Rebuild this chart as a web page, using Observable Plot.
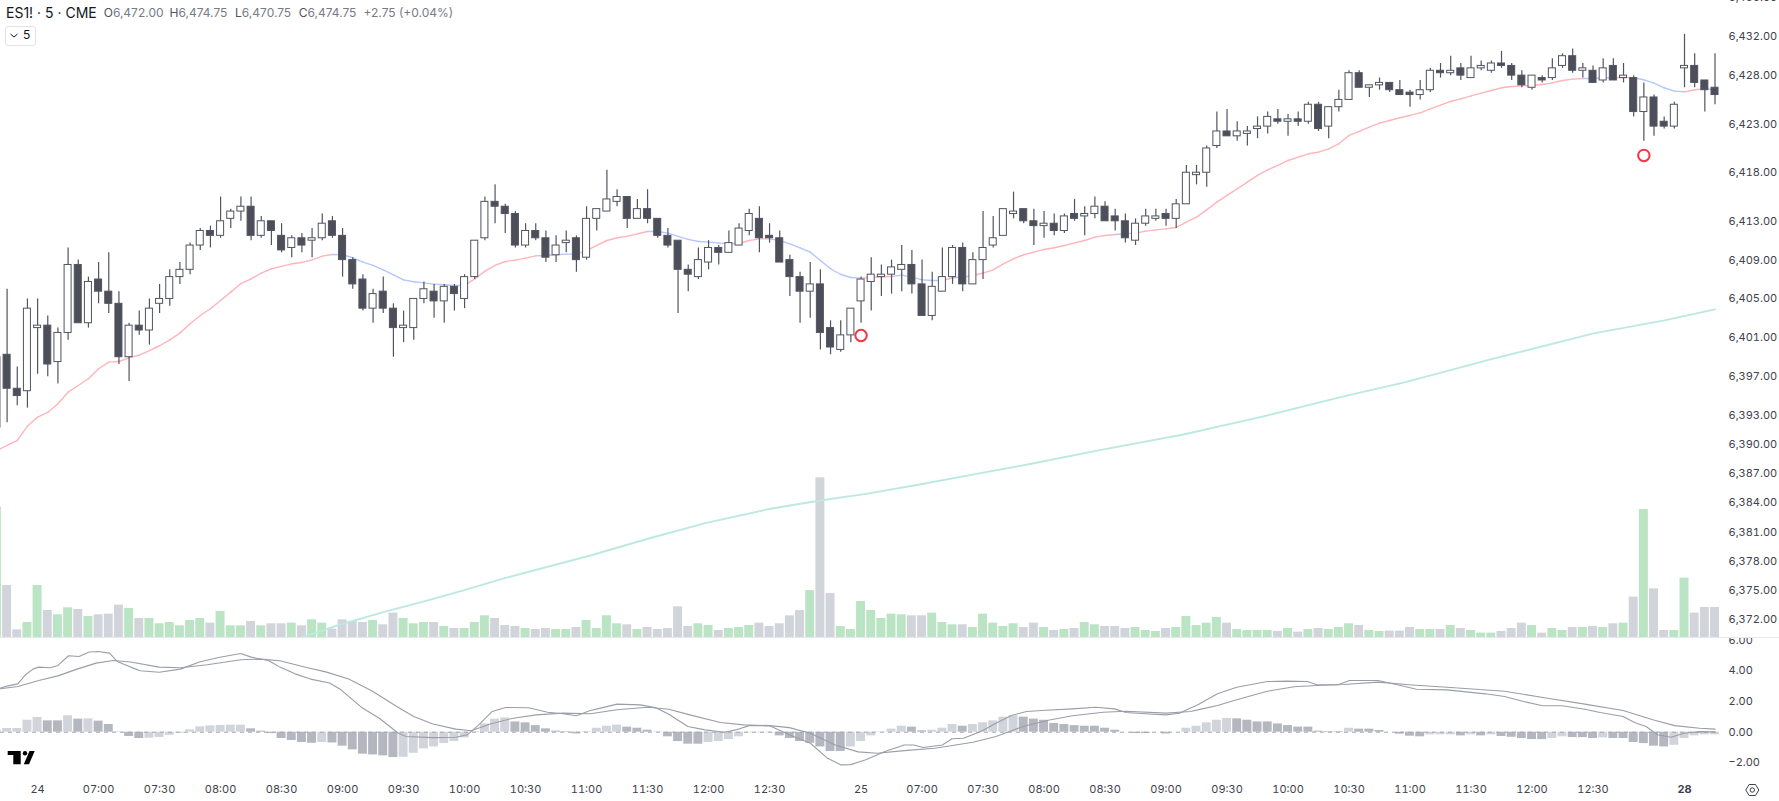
<!DOCTYPE html>
<html>
<head>
<meta charset="utf-8">
<script src="https://cdn.jsdelivr.net/npm/d3@7"></script>
<script src="https://cdn.jsdelivr.net/npm/@observablehq/plot@0.6"></script>
<style>
html,body{margin:0;padding:0;background:#fff;overflow:hidden;font-family:Inter,sans-serif}
#stage{position:relative;width:1779px;height:801px;overflow:hidden}
#stage>svg{position:absolute;left:0}
.t{position:absolute;white-space:nowrap;line-height:16px}
</style>
</head>
<body>
<div id="stage"></div>
<script>
// bar index of the first value in every per-bar array (06:30 of the 24th is index 0)
const firstBar = -4;

const opens = [
6391.75,6399.25,6395.75,6395.5,6402,6402.25,6398.5,6401.5,6408.5,6402.5,
6407,6405.75,6404.5,6399,6402.25,6401.75,6404.5,6405,6407.25,6408,
6410.5,6412,6411.5,6413.25,6414,6414.5,6411.5,6413,6411.5,6410.25,
6411.25,6411,6411.25,6413,6411.5,6409,6407,6404,6405.75,6404,
6402,6402,6405,6405.75,6404.75,6406.25,6405,6407.25,6411.25,6415,
6414.5,6413.75,6410.5,6412,6411.25,6409.5,6410.75,6411.25,6409.25,6413.25,
6414,6415,6415.5,6413.25,6414.25,6413.25,6411.5,6411,6408,6407.25,
6408.75,6410.25,6409.75,6410.5,6412,6413.25,6411.5,6411.25,6409,6407.25,
6405.75,6406.5,6402,6399.75,6401.25,6404.75,6406.75,6407.25,6407.5,6408,
6408.5,6406.5,6403.25,6405.75,6407.25,6410.25,6406.5,6409,6410.5,6411.5,
6413.75,6414.25,6413,6412.5,6412.75,6412,6413.75,6413.5,6413.75,6414.5,
6413.5,6413,6411,6412.75,6413.25,6413.75,6413.25,6414.75,6417.75,6418,
6420.75,6422.25,6421.75,6422,6422.5,6422.75,6423.5,6423.25,6423.5,6423.25,
6425,6422.75,6424.75,6425.5,6428.25,6426.75,6427,6427.25,6426.5,6426.25,
6426,6426.5,6428.5,6428.25,6428.75,6427.75,6428.75,6428.5,6429.25,6429,
6428,6426.75,6427.75,6427.75,6429,6430,6428.5,6428.5,6427.5,6429,
6427.75,6427.75,6424.25,6425.75,6423.25,6422.75,6428.75,6429,6427.5,6426.75];

const closes = [
6399,6395.75,6395,6404,6402.25,6398.25,6401.5,6408.5,6402.5,6406.75,
6405.75,6404.5,6399,6402.25,6401.75,6404,6405,6407.25,6408,6410.5,
6412,6411.5,6413,6414,6414.5,6411.5,6413,6412,6410,6411.25,
6410.5,6411.25,6412.75,6411.5,6409,6406.5,6404,6405.5,6404,6402,
6402.25,6405,6406,6404.75,6406.25,6405.5,6407.25,6411,6415,6414.5,
6413.75,6410.5,6412,6411.25,6409.25,6410.5,6411,6409,6413.25,6414.25,
6415.25,6415.5,6413.25,6414.25,6413.25,6411.5,6410.5,6408,6407.5,6409,
6410.25,6409.75,6410.75,6412.25,6413.75,6411.25,6411.25,6408.75,6407.25,6405.75,
6406.5,6401.5,6400,6401.25,6404,6407,6407.5,6407.5,6408.25,6408.5,
6406.5,6403.25,6406.25,6407.25,6410.25,6406.5,6409,6410.25,6411.25,6414.25,
6414,6413,6412.5,6412.75,6412,6413.5,6413.25,6413.75,6414.5,6413,
6413,6411.25,6412.75,6413.5,6413.5,6413.25,6414.75,6418,6418,6420.5,
6422.25,6421.75,6422.25,6422.25,6422.75,6423.75,6423.25,6423.5,6423.25,6425,
6422.5,6424.75,6425.5,6428.25,6426.75,6427,6427.25,6426.5,6426,6426,
6426.5,6428.5,6428.25,6428.5,6428,6428.75,6429,6429.25,6429,6428,
6427,6428,6427.5,6428.75,6430,6428.5,6428.75,6427.25,6428.75,6427.5,
6428,6424.25,6425.75,6422.75,6422.75,6425,6429,6427.25,6426.5,6426];

const highs = [
6400,6406,6398,6405,6405,6403.25,6402,6410.25,6409,6407.25,
6408.75,6409.75,6405.75,6402.5,6403.75,6405,6406.5,6408,6408.75,6410.75,
6412.25,6412.5,6415.5,6414.25,6415.5,6415.5,6413.5,6413,6412.75,6411.5,
6411.75,6412.25,6413.75,6413.5,6412.25,6409.25,6407.5,6406,6407.25,6404.5,
6403.75,6405,6406.75,6406.5,6406.5,6406.5,6407.5,6411,6415.5,6416.75,
6414.75,6414,6412.75,6412.75,6412,6411.5,6412,6411.5,6414.5,6414.25,
6418.25,6416.25,6415.5,6415.25,6416.25,6413.25,6412.25,6411,6408.5,6410.25,
6411,6410.5,6412,6412.75,6414.25,6414.5,6412.75,6412,6409.5,6407.75,
6408.75,6408,6402.75,6402.75,6404,6407.25,6409.25,6408.5,6409,6410.5,
6410,6409,6407.75,6410.25,6410.5,6410.75,6409.75,6414,6413.5,6414.25,
6416,6414.25,6414.25,6414,6413.75,6413.75,6415.25,6414.5,6415.5,6415,
6414.25,6413.75,6413.25,6414.25,6414.25,6414.25,6415.25,6418.75,6418.75,6420.75,
6424.25,6424.5,6423.25,6422.75,6423.75,6424.25,6424.5,6424,6424.25,6425.25,
6425.25,6424.75,6426.5,6428.5,6428.5,6427,6427.75,6427.25,6427.5,6426.5,
6427.5,6428.75,6429.25,6430,6429.25,6430,6429.5,6429.5,6430.5,6429.25,
6428.5,6428,6428,6429.75,6430.25,6430.75,6429.25,6429,6429.75,6429.75,
6429.25,6428,6427.25,6426,6423.75,6425.25,6432.25,6430.25,6427.5,6430.25];

const lows = [
6391.5,6392.25,6394,6393.75,6397.25,6397,6396.25,6400.75,6402.5,6402,
6404.5,6403.5,6398.25,6396.5,6401.25,6400.25,6403.5,6404.25,6406.5,6407.5,
6410,6410.25,6411.25,6412.25,6413,6411,6411.25,6410.5,6409.75,6409.25,
6409.75,6409.25,6411,6411.25,6407.25,6406,6403.75,6402.5,6403.5,6399,
6400.5,6400.75,6404.5,6403,6402.5,6403.75,6404,6407,6411,6412.75,
6411.75,6410.25,6410.25,6411,6408.75,6408.75,6409.75,6407.75,6409,6412,
6414,6414.5,6412.25,6413.25,6412.75,6411.25,6410.25,6403.5,6405.75,6407,
6408,6408.5,6409.75,6410.5,6411.5,6409.75,6410.75,6408.75,6405.25,6402.5,
6403,6399.75,6399.25,6399.5,6400.5,6402.5,6403.75,6405.25,6405.5,6405.75,
6405.5,6403.25,6402.75,6405.75,6406.5,6405.75,6406.5,6407,6410.25,6411.5,
6413.25,6412.75,6410.5,6411.25,6411.5,6411.75,6413,6411.5,6413.25,6413,
6412,6410.75,6410.5,6412.5,6413,6412.5,6412.25,6414.75,6416.75,6416.5,
6420.5,6421.75,6421.25,6420.75,6421.5,6422,6423,6421.75,6422.75,6423,
6422.25,6421.5,6424.25,6425.5,6426.75,6425.75,6426.5,6426.25,6426,6424.75,
6425.5,6426.25,6427.75,6428,6427.5,6427.75,6428.5,6428.25,6428.75,6427.5,
6426.75,6426.5,6427.25,6427.5,6428.75,6428.25,6427.75,6427.25,6427.25,6427.5,
6427.25,6423.75,6421.25,6421.75,6422.5,6422.5,6426.75,6426.75,6424.25,6425];

const volumes = [
392,157,24,46,157,82,69,90,85,64,
69,71,98,88,58,58,42,46,36,52,
58,44,79,36,36,49,36,42,42,44,
36,54,44,26,54,49,46,52,39,74,
58,42,46,46,34,28,28,46,66,58,
37,34,28,25,28,25,25,31,52,28,
66,42,39,25,31,25,28,93,34,42,
37,22,28,31,37,44,34,42,66,82,
142,480,133,34,25,109,82,58,71,69,
66,66,74,46,39,39,31,71,44,34,
42,31,44,31,22,25,28,46,39,34,
34,28,31,22,19,28,31,64,37,44,
61,44,25,22,22,22,19,28,17,25,
28,25,31,42,37,22,19,20,20,31,
25,25,25,37,28,22,14,14,19,28,
44,37,14,28,22,31,31,34,31,42,
44,122,385,147,22,22,179,74,91,91];

const ema21 = [
6389.40,6389.91,6390.43,6391.90,6392.83,6393.31,6394.20,6395.40,6396.09,6396.78,
6397.81,6398.49,6398.56,6398.94,6399.21,6399.69,6400.18,6400.79,6401.48,6402.44,
6403.30,6403.99,6404.84,6405.70,6406.59,6407.07,6407.66,6408.11,6408.35,6408.62,
6408.76,6409.03,6409.41,6409.58,6409.55,6409.24,6408.79,6408.45,6408.00,6407.49,
6406.97,6406.77,6406.66,6406.53,6406.46,6406.39,6406.39,6407.07,6407.86,6408.45,
6408.86,6409.00,6409.20,6409.44,6409.48,6409.55,6409.62,6409.62,6409.99,6410.51,
6411.02,6411.30,6411.44,6411.71,6411.95,6411.95,6411.78,6411.44,6411.13,6410.92,
6410.85,6410.75,6410.71,6410.71,6411.02,6411.19,6411.19,6411.02,6410.68,6410.27,
6409.82,6408.96,6408.11,6407.52,6407.21,6407.14,6407.21,6407.28,6407.32,6407.45,
6407.25,6406.97,6406.90,6406.90,6407.18,6407.25,6407.42,6407.66,6408.00,6408.62,
6409.14,6409.55,6409.82,6410.10,6410.27,6410.51,6410.78,6411.02,6411.37,6411.54,
6411.64,6411.71,6411.78,6411.98,6412.12,6412.22,6412.36,6412.91,6413.43,6414.18,
6414.97,6415.66,6416.34,6417.03,6417.72,6418.30,6418.75,6419.26,6419.61,6419.95,
6420.12,6420.46,6420.98,6421.84,6422.25,6422.70,6423.11,6423.38,6423.66,6423.90,
6424.17,6424.58,6424.96,6425.34,6425.61,6425.92,6426.20,6426.47,6426.75,6426.88,
6426.95,6426.99,6427.09,6427.26,6427.50,6427.64,6427.71,6427.71,6427.78,6427.78,
6427.81,6427.78,6427.57,6427.23,6426.75,6426.40,6426.33,6426.54,6426.64,6426.57];

// bar ranges where the 21 line turns blue
const emaFallingRanges = [[29,42],[49,53],[60,69],[72,81],[84,89],[90,92],[106,108],[152,155],[157,162],[164,165]];

const ema200Bars = [26.09,29.48,34,37.76,41.89,46.05,54.39,60.03,65.68,72.08,76.97,81.49,86.75,92.75,97.37,104.36,112.72,120.59,128.46,134.56,142.92,153.06,160.04,165];
const ema200Prices = [6370.17,6371.37,6372.74,6373.77,6374.98,6376.28,6378.58,6380.30,6381.91,6383.39,6384.24,6384.93,6385.89,6387.06,6387.95,6389.40,6391.04,6392.90,6394.96,6396.43,6398.77,6401.45,6402.79,6403.92];

const histogram = [
.13,.24,.24,.78,.96,.74,.74,1.07,.85,.87,
.72,.50,.02,-.28,-.41,-.39,-.35,-.20,-.07,.15,
.35,.41,.44,.46,.46,.22,.07,-.09,-.41,-.54,
-.67,-.72,-.67,-.70,-.91,-1.15,-1.43,-1.48,-1.54,-1.65,
-1.63,-1.37,-1.09,-.96,-.74,-.61,-.37,.04,.54,.85,
.93,.67,.61,.43,.22,.07,.04,-.11,.04,.26,
.39,.46,.33,.26,.13,-.02,-.30,-.61,-.78,-.78,
-.67,-.61,-.48,-.30,-.04,-.04,-.04,-.24,-.41,-.61,
-.72,-.96,-1.26,-1.26,-.96,-.61,-.24,-.02,.20,.39,
.33,.09,.13,.26,.50,.39,.50,.61,.74,.98,
1.07,.98,.85,.78,.57,.50,.43,.39,.39,.26,
.13,0,-.09,-.09,0,-.11,0,.26,.39,.61,
.78,.89,.87,.78,.67,.67,.54,.43,.33,.33,
.07,.04,.04,.26,.20,.20,.11,0,-.13,-.26,
-.30,-.17,-.17,-.17,-.24,-.17,-.24,-.17,-.28,-.33,
-.41,-.48,-.48,-.41,-.30,-.35,-.35,-.41,-.37,-.41,
-.41,-.67,-.74,-.91,-.96,-.85,-.41,-.24,-.17,-.17];

const macdBars = [-3.65,-2.9,-1.95,-1.2,-.45,.12,1.25,2,3.05,4.07,5.08,5.95,7.08,7.83,9.15,10.09,11.97,14.04,15.92,17.8,19.99,21,22.7,23.83,25.33,26.84,28.72,29.85,31.92,33.61,35.49,36.25,38.88,41.14,42.27,43.4,44.72,46.03,48.29,50.17,51.68,53,54.37,55.37,57,59.27,60.77,62.09,63.97,65.66,67.55,68.67,69.99,72.06,73.94,76.02,77.71,79.03,79.97,81.47,83.35,85.24,86.18,87.12,89,89.95,91.08,92.77,94.27,95.78,97.28,99.17,101.8,104.05,105.94,107.06,108.95,111,112.33,113.4,114,116.06,117.95,120.96,122.84,124.91,125.85,127.92,129.05,131.87,133.75,135.63,138.64,142.41,144.29,146.17,148.06,149.94,152.2,153.7,155.96,157.09,158.22,159.35,160.66,161.98,163.49,165];
const macdValues = [2.87,3.02,3.15,3.74,4.11,4.24,4.20,4.35,4.98,4.93,5.22,5.26,5.15,4.61,4.24,4,3.91,4.11,4.57,4.87,5.13,4.89,4.67,4.24,3.80,3.46,3.2,2.76,1.59,.91,-.07,-.28,-.35,-.33,-.17,.48,1.35,1.61,1.59,1.30,1.20,1.07,1.41,1.57,1.83,1.78,1.61,1.17,.37,.15,0,.15,.43,.41,-.17,-.72,-1.70,-2.13,-2.11,-1.80,-1.26,-.83,-.83,-1,-.83,-.43,-.39,.04,.59,1.09,1.35,1.43,1.52,1.63,1.52,1.28,1.20,1.13,1.24,1.57,1.74,2.5,2.93,3.30,3.33,3.30,3.09,3.09,3.37,3.37,3.09,2.8,2.76,2.5,2.33,2,1.72,1.72,1.5,1.28,1.02,.63,.37,-.17,-.33,-.07,.04,.02];

const signalBars = [-3.65,-1.95,.12,2,3.88,5.76,7.45,9.15,11.97,14.04,16.68,19.99,21.94,23.83,26.46,28.34,30.6,32.86,35.49,37,38.88,41.14,42.65,44.53,46.79,49.05,51.68,54.37,57,60,62.09,64.16,67.17,69.43,72.06,73.94,76.02,78.46,80.72,82.6,85.24,88.25,92.01,94.27,96.91,99.53,101.8,104.8,107.06,111,113.4,114.56,116.06,117.95,120.96,123.6,125.85,128.48,131.87,134.88,138.64,144.29,148.06,152.2,155.96,158.97,161.04,163.49,165];
const signalValues = [2.83,2.98,3.37,3.67,4.11,4.5,4.67,4.57,4.24,4.2,4.39,4.72,4.76,4.65,4.22,3.93,3.46,2.7,1.61,1.02,.54,.2,.09,.54,.91,1.13,1.24,1.20,1.46,1.63,1.50,1.13,.63,.48,.43,.30,-.07,-.83,-1.28,-1.37,-1.20,-1.04,-.65,-.28,.37,.80,1.07,1.30,1.37,1.24,1.35,1.52,1.74,2.11,2.67,2.96,3.04,3.11,3.26,3.09,2.93,2.67,2.26,1.83,1.41,.80,.43,.26,.20];

const alertBars = [81,158];
const alertPrices = [6401.24,6419.78];

const priceTicks = [6436,6432,6428,6423,6418,6413,6409,6405,6401,6397,6393,6390,6387,6384,6381,6378,6375,6372];
const macdTicks = [6,4,2,0,-2];
const timeTickBars = [0,6,12,18,24,30,36,42,48,54,60,66,72,81,87,93,99,105,111,117,123,129,135,141,147,153];
const timeTickLabels = ["24","07:00","07:30","08:00","08:30","09:00","09:30","10:00","10:30","11:00","11:30","12:00","12:30","25","07:00","07:30","08:00","08:30","09:00","09:30","10:00","10:30","11:00","11:30","12:00","12:30"];
const boldTickBars = [162];
const boldTickLabels = ["28"];

const header = [["O","6,472.00",103.7],["H","6,474.75",169.5],["L","6,470.75",235],["C","6,474.75",298.7]];

// ---- tables
const bars = opens.map((o,i)=>({k:i+firstBar,o,c:closes[i],h:highs[i],l:lows[i],v:volumes[i],e:ema21[i],m:histogram[i]}));
bars.forEach((b,i)=>{
  const p = bars[i-1];
  b.up = b.c >= b.o;
  b.rising = !p ? true : b.m > p.m ? true : b.m < p.m ? false : p.rising;
});
const isFalling = k => emaFallingRanges.some(([a,b])=>k>=a && k<b);
const emaSegments = [];
for (let i=0;i+1<bars.length;i++){
  const a=bars[i], b=bars[i+1], seg=i, blue=isFalling(a.k);
  emaSegments.push({k:a.k,e:a.e,seg,blue},{k:b.k,e:b.e,seg,blue});
}
const ema200 = ema200Bars.map((k,i)=>({k,p:ema200Prices[i]}));
const macdLine = macdBars.map((k,i)=>({k,v:macdValues[i]}));
const signalLine = signalBars.map((k,i)=>({k,v:signalValues[i]}));
const alerts = alertBars.map((k,i)=>({k,p:alertPrices[i]}));

// ---- shared geometry
const W=1779, plotRight=59;
const xScale={type:"linear",domain:[-3.649,165.54],range:[0,1720]};
const baseStyle={background:"transparent",fontFamily:"Inter, sans-serif",fontSize:"11px",color:"#3f424d",overflow:"hidden"};
const paneH=638;
const halfBody=.345, halfBar=.44;
const wick="#52545f", bodyDark="#4c4e5a", green="#bae4c3", grey="#d1d4da", greyDark="#b4b7c0", lineGrey="#9b9ea8";

const stage=document.getElementById("stage");

// volume pane (behind the price pane)
const volPlot=Plot.plot({
  width:W,height:paneH,marginLeft:0,marginRight:plotRight,marginTop:0,marginBottom:0,
  style:baseStyle,
  x:{...xScale,axis:null},
  y:{type:"linear",domain:[0,1911.9],range:[637.3,0],axis:null},
  marks:[
    Plot.rect(bars,{x1:d=>d.k-halfBar,x2:d=>d.k+halfBar,y1:0,y2:"v",fill:d=>d.up?green:grey})
  ]
});
volPlot.style.top="0px"; stage.appendChild(volPlot);

// price pane
const pricePlot=Plot.plot({
  width:W,height:paneH,marginLeft:0,marginRight:plotRight,marginTop:0,marginBottom:0,
  style:baseStyle,
  x:{...xScale,axis:null},
  y:{type:"linear",domain:[6370.03,6435.738],range:[638,0]},
  marks:[
    Plot.line(ema200,{x:"k",y:"p",stroke:"#bce9e0",strokeWidth:1.9}),
    Plot.line(emaSegments,{x:"k",y:"e",z:"seg",stroke:d=>d.blue?"#b3c7fb":"#ffb5ba",strokeWidth:1.4}),
    Plot.ruleX(bars,{x:"k",y1:"l",y2:"h",stroke:wick,strokeWidth:1.2}),
    Plot.rect(bars,{x1:d=>d.k-halfBody,x2:d=>d.k+halfBody,y1:"o",y2:"c",fill:d=>d.up?"#ffffff":bodyDark,stroke:wick,strokeWidth:1}),
    Plot.dot(alerts,{x:"k",y:"p",r:5.7,fill:"#ffffff",stroke:"#f23645",strokeWidth:2}),
    Plot.axisY({anchor:"right",ticks:priceTicks,tickSize:0,tickPadding:8,label:null,tickFormat:d3.format(",.2f")})
  ]
});
pricePlot.style.top="0px"; stage.appendChild(pricePlot);

// MACD pane with the time axis
const macdPlot=Plot.plot({
  width:W,height:163,marginLeft:0,marginRight:plotRight,marginTop:0,marginBottom:26,
  style:baseStyle,
  x:{...xScale},
  y:{type:"linear",domain:[-2.82,6.104],range:[137,0]},
  marks:[
    Plot.rect(bars,{x1:d=>d.k-halfBar,x2:d=>d.k+halfBar,y1:0,y2:"m",fill:d=>d.rising?grey:greyDark}),
    Plot.ruleY([0],{stroke:"#a5a8b1",strokeDasharray:"4 4",strokeWidth:1}),
    Plot.line(signalLine,{x:"k",y:"v",stroke:lineGrey,strokeWidth:1.1}),
    Plot.line(macdLine,{x:"k",y:"v",stroke:lineGrey,strokeWidth:1.1}),
    Plot.axisY({anchor:"right",ticks:macdTicks,tickSize:0,tickPadding:8,label:null,tickFormat:d3.format(".2f")}),
    Plot.axisX({anchor:"bottom",ticks:timeTickBars,tickSize:0,tickPadding:10,label:null,tickFormat:k=>timeTickLabels[timeTickBars.indexOf(k)]}),
    Plot.axisX({anchor:"bottom",ticks:boldTickBars,tickSize:0,tickPadding:10,label:null,fontWeight:"700",tickFormat:k=>boldTickLabels[boldTickBars.indexOf(k)]})
  ]
});
macdPlot.style.top="638px"; stage.appendChild(macdPlot);

// pane separator
const sep=document.createElement("div");
sep.style.cssText="position:absolute;left:0;top:637px;width:1779px;height:1px;background:#e6e8ee";
stage.appendChild(sep);

// legend
function addText(txt,left,top,size,color,extra){
  const s=document.createElement("span");
  s.className="t"; s.textContent=txt;
  s.style.cssText+=`left:${left}px;top:${top}px;font-size:${size}px;color:${color};${extra||""}`;
  stage.appendChild(s); return s;
}
addText("ES1! · 5 · CME",6,5,14,"#131722");
header.forEach(([l,v,x])=>{
  const s=addText(l,x,5,12,"#50535e");
  const t=document.createElement("span"); t.textContent=v; t.style.color="#787b86"; s.appendChild(t);
});
addText("+2.75 (+0.04%)",363.5,5,12,"#787b86");

const box=document.createElement("div");
box.style.cssText="position:absolute;left:5px;top:26px;width:29px;height:18px;border:1px solid #e0e3eb;border-radius:3px;box-sizing:content-box";
stage.appendChild(box);
addText("5",23,27,12,"#131722");

// decoration: chevron, logo, settings
const ns="http://www.w3.org/2000/svg";
const deco=document.createElementNS(ns,"svg");
deco.setAttribute("width",W);deco.setAttribute("height",801);
deco.style.cssText="position:absolute;left:0;top:0;pointer-events:none";
deco.innerHTML=`
<path d="M10.5 34 L14 37 L17.5 34" fill="none" stroke="#131722" stroke-width="1"/>
<path d="M7.7 751 H20.7 V764.3 H13.3 V755 H7.7 Z" fill="#000"/>
<circle cx="25" cy="753.2" r="2.2" fill="#000"/>
<path d="M29.5 751 H34.7 L29 764.3 H23.8 Z" fill="#000"/>
<path d="M1745.8 790 L1749.1 784.5 H1755.5 L1758.8 790 L1755.5 795.5 H1749.1 Z" fill="none" stroke="#3f424d" stroke-width="1" stroke-linejoin="round"/>
<circle cx="1752.3" cy="790" r="2.2" fill="none" stroke="#3f424d" stroke-width="1"/>`;
stage.appendChild(deco);
</script>
</body>
</html>
